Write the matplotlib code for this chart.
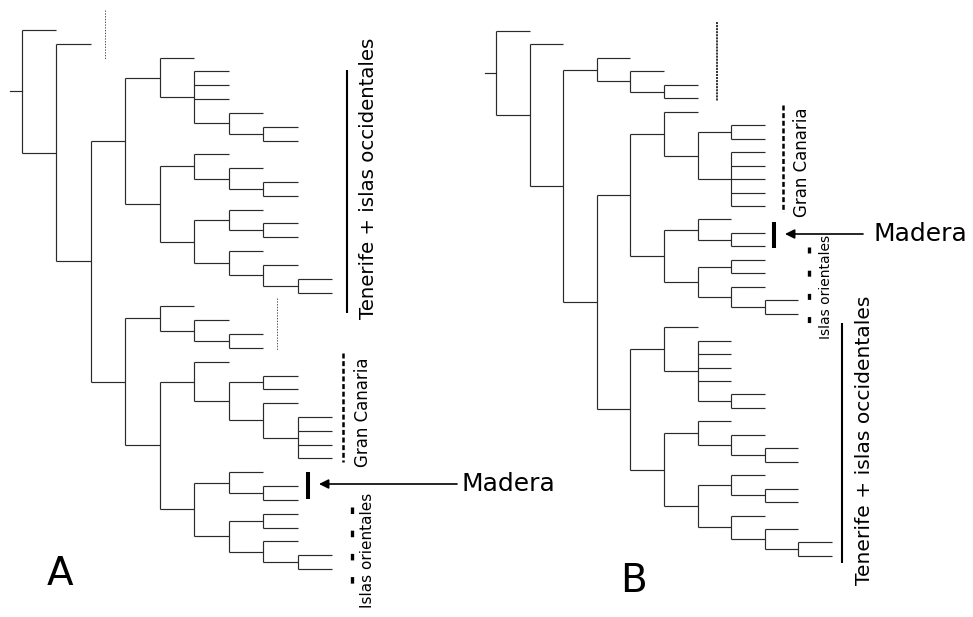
import numpy as np
import matplotlib
matplotlib.use("Agg")
import matplotlib.pyplot as plt

# tree topologies (cladograms, every branch one unit long)
tree_a = "(a,(a,(((a,(a,a,a,(a,(a,a)))),((a,(a,(a,a))),((a,(a,a)),(a,(a,(a,a)))))),((a,(a,(a,a))),((a,((a,a),(a,(a,a,a,a)))),((a,(a,a)),((a,a),(a,(a,a)))))))))"
tree_b = "(a,(a,((a,(a,(a,a))),(((a,((a,a),(a,a,a,a,a))),((a,(a,a)),((a,a),(a,(a,a))))),((a,(a,a,a,a,(a,a))),((a,(a,(a,a))),((a,(a,a)),(a,(a,(a,a))))))))))"

panel_labels = ["A", "B"]
clade_labels = ["Tenerife + islas occidentales", "Gran Canaria", "Islas orientales"]
arrow_label = "Madera"

plt.rcParams['lines.scale_dashes'] = False
plt.rcParams['font.family'] = ['DejaVu Sans']

TREE_COLOR = '#2a2a2a'
TREE_LW = 0.85


def parse_newick(s):
    pos = 0

    def node():
        nonlocal pos
        if s[pos] == '(':
            pos += 1
            kids = [node()]
            while s[pos] == ',':
                pos += 1
                kids.append(node())
            pos += 1
            return kids
        start = pos
        while pos < len(s) and s[pos] not in ',()':
            pos += 1
        return s[start:pos]

    return node()


def draw_tree(ax, tree, x0, step, y0, dy, stub):
    count = [0]

    def walk(n, depth):
        x = x0 + depth * step
        if isinstance(n, str):
            y = y0 + count[0] * dy
            count[0] += 1
            return y
        ys = [walk(c, depth + 1) for c in n]
        for yc in ys:
            ax.plot([x, x + step], [yc, yc], color=TREE_COLOR, lw=TREE_LW,
                    solid_capstyle='butt')
        ax.plot([x, x], [ys[0], ys[-1]], color=TREE_COLOR, lw=TREE_LW,
                solid_capstyle='butt')
        return (ys[0] + ys[-1]) / 2

    yroot = walk(tree, 0)
    ax.plot([x0 - stub, x0], [yroot, yroot], color=TREE_COLOR, lw=TREE_LW)


def vbar(ax, x, y1, y2, lw, dashes=None, color='k'):
    line, = ax.plot([x, x], [y1, y2], color=color, lw=lw, solid_capstyle='butt')
    if dashes is not None:
        line.set_dashes(dashes)
        line.set_dash_capstyle('butt')


def vtext(ax, x, y, s, size):
    ax.text(x, y, s, rotation=90, ha='center', va='center', fontsize=size,
            color='k')


fig = plt.figure(figsize=(9.73, 6.17), dpi=100)
ax = fig.add_axes([0, 0, 1, 1])
ax.set_xlim(0, 973)
ax.set_ylim(617, 0)
ax.axis('off')

# ---- panel A ----
draw_tree(ax, parse_newick(tree_a), 22, 34.44, 30, 13.82, 12)
vbar(ax, 105, 10, 60, 0.7, dashes=(1.0, 1.0), color='#555555')
vbar(ax, 277, 298, 350, 0.7, dashes=(1.0, 1.0), color='#555555')
vbar(ax, 347, 70, 313, 1.5)
vtext(ax, 369, 178, clade_labels[0], 14.2)
vbar(ax, 342.5, 353, 462, 1.8, dashes=(3.6, 1.9))
vtext(ax, 363, 412, clade_labels[1], 12)
vbar(ax, 308, 472, 499, 2.9)
ax.annotate('', xy=(319, 484), xytext=(457, 484),
            arrowprops=dict(arrowstyle='-|>', color='k', lw=1.2,
                            mutation_scale=14, shrinkA=0, shrinkB=0))
ax.text(462, 484, arrow_label, ha='left', va='center', fontsize=18)
vbar(ax, 352, 507, 585, 2.4, dashes=(4.7, 12.0))
vtext(ax, 367, 550, clade_labels[2], 11)
ax.text(60, 585, panel_labels[0], ha='center', va='baseline', fontsize=28)

# ---- panel B ----
draw_tree(ax, parse_newick(tree_b), 496, 33.6, 31, 13.46, 11)
vbar(ax, 717, 22, 101, 1.4, dashes=(1.5, 0.7), color='#333333')
vbar(ax, 783, 105, 212, 1.8, dashes=(3.6, 1.9))
vtext(ax, 802, 162, clade_labels[1], 12)
vbar(ax, 774, 222, 248, 2.9)
ax.annotate('', xy=(785, 234), xytext=(863, 234),
            arrowprops=dict(arrowstyle='-|>', color='k', lw=1.2,
                            mutation_scale=14, shrinkA=0, shrinkB=0))
ax.text(873, 234, arrow_label, ha='left', va='center', fontsize=18)
vbar(ax, 808.5, 247, 323, 2.4, dashes=(4.3, 12.4))
vtext(ax, 826, 287, clade_labels[2], 10)
vbar(ax, 842, 323, 563, 1.5)
vtext(ax, 865, 440, clade_labels[0], 14.6)
ax.text(633, 592, panel_labels[1], ha='center', va='baseline', fontsize=28)

fig.savefig('out.png', dpi=100)
